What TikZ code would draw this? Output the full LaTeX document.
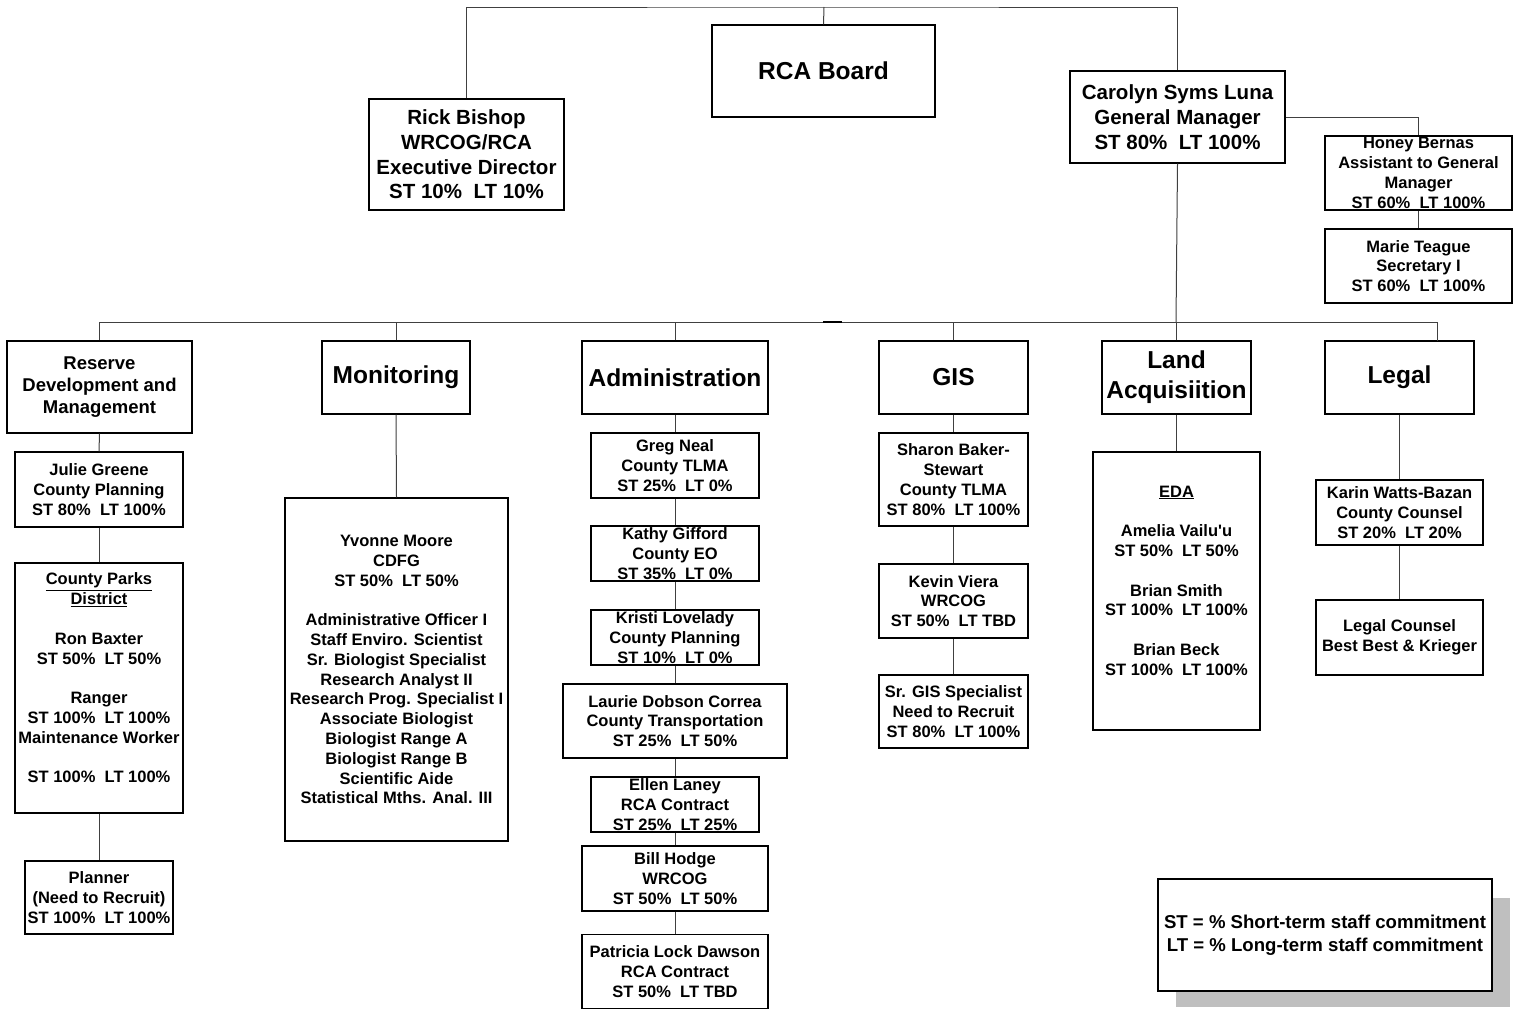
\documentclass[tikz,border=0pt]{standalone}
\usepackage{fontspec}
\setmainfont{Liberation Sans}
\newcommand{\fsm}{\fontsize{16.5}{19.8}\selectfont\bfseries}
\newcommand{\fmd}{\fontsize{18.5}{22}\selectfont\bfseries}
\newcommand{\fbg}{\fontsize{20.5}{24.7}\selectfont\bfseries}
\newcommand{\fhd}{\fontsize{24.5}{30}\selectfont\bfseries}
\newcommand{\flg}{\fontsize{18.6}{23}\selectfont\bfseries}
\tikzset{
  box/.style args={#1x#2}{draw=black, line width=1.4pt, fill=white, rectangle, align=center,
    inner sep=0pt, minimum width=#1pt, minimum height=#2pt, font=\fsm},
  txt/.style={align=center, inner sep=0pt, font=\fsm},
  conn/.style={draw=black!75, line width=1pt},
}
\begin{document}
\begin{tikzpicture}[x=1pt,y=-1pt]
\useasboundingbox (0,0) rectangle (1520,1009);
\fill[white] (0,0) rectangle (1520,1009);

% top level
\node[box=195 x 111, font=\fbg] (rick) at (466.5,154.5) {Rick Bishop\\WRCOG/RCA\\Executive Director\\ST 10\%\ \ LT 10\%};
\node[box=223 x 92, font=\fhd] (board) at (823.5,71) {RCA Board};
\node[box=215 x 92, font=\fbg] (carolyn) at (1177.5,117) {Carolyn Syms Luna\\General Manager\\ST 80\%\ \ LT 100\%};
\node[box=187 x 74] (honey) at (1418.5,173) {Honey Bernas\\Assistant to General\\Manager\\ST 60\%\ \ LT 100\%};
\node[box=187 x 74] (marie) at (1418.5,266) {Marie Teague\\Secretary I\\ST 60\%\ \ LT 100\%};

\coordinate (top) at (824,7);
\draw[conn] (rick.north) |- (top) -| (carolyn.north);
\draw[conn] (top) -- (board.north);
\draw[conn] (carolyn.east) -| (honey.north);
\draw[conn] (honey.south) -- (marie.north);

% department row
\node[box=185 x 92, font=\fmd] (reserve) at (99.5,387) {Reserve\\Development and\\Management};
\node[box=148 x 73, font=\fhd] (monitoring) at (396,377.5) {Monitoring};
\node[box=186 x 73, font=\fhd] (admin) at (675,377.5) {Administration};
\node[box=149 x 73, font=\fhd] (gis) at (953.5,377.5) {GIS};
\node[box=149 x 73, font=\fhd] (land) at (1176.5,377.5) {Land\\Acquisiition};
\node[box=149 x 73, font=\fhd] (legal) at (1399.5,377.5) {Legal};

\coordinate (bus) at (1176,322);
\coordinate (legaltop) at (1437,341);
\draw[conn] (carolyn.south) -- (bus);
\draw[conn] (reserve.north) |- (legaltop |- bus) -- (legaltop);
\draw[conn] (monitoring.north) -- (monitoring.north |- bus);
\draw[conn] (admin.north) -- (admin.north |- bus);
\draw[conn] (gis.north) -- (gis.north |- bus);
\draw[conn] (land.north) -- (land.north |- bus);
\draw[line width=2.5pt] (823,322) -- (842,322);

% reserve column
\node[box=168 x 75] (julie) at (99,489.5) {Julie Greene\\County Planning\\ST 80\%\ \ LT 100\%};
\node[box=168 x 250] (parks) at (99,688) {};
\node[txt] (parkst) at (99,678) {\underline{County Parks}\\\underline{District}\\[19.8pt]Ron Baxter\\ST 50\%\ \ LT 50\%\\[19.8pt]Ranger\\ST 100\%\ \ LT 100\%\\Maintenance Worker\\[19.8pt]ST 100\%\ \ LT 100\%};
\node[box=148 x 73] (planner) at (99,897.5) {Planner\\(Need to Recruit)\\ST 100\%\ \ LT 100\%};
\draw[conn] (reserve.south) -- (julie.north);
\draw[conn] (julie.south) -- (parks.north);
\draw[conn] (parks.south) -- (planner.north);

% monitoring column
\node[box=223 x 343] (yvonne) at (396.5,669.5) {Yvonne Moore\\CDFG\\ST 50\%\ \ LT 50\%\\[19.8pt]Administrative Officer I\\Staff Enviro. Scientist\\Sr. Biologist Specialist\\Research Analyst II\\Research Prog. Specialist I\\Associate Biologist\\Biologist Range A\\Biologist Range B\\Scientific Aide\\Statistical Mths. Anal. III};
\draw[conn] (monitoring.south) -- (yvonne.north);

% administration column
\node[box=168 x 65] (greg) at (675,465.5) {Greg Neal\\County TLMA\\ST 25\%\ \ LT 0\%};
\node[box=168 x 55] (kathy) at (675,553.5) {Kathy Gifford\\County EO\\ST 35\%\ \ LT 0\%};
\node[box=168 x 55] (kristi) at (675,637.5) {Kristi Lovelady\\County Planning\\ST 10\%\ \ LT 0\%};
\node[box=224 x 74] (laurie) at (675,721) {Laurie Dobson Correa\\County Transportation\\ST 25\%\ \ LT 50\%};
\node[box=168 x 55] (ellen) at (675,804.5) {Ellen Laney\\RCA Contract\\ST 25\%\ \ LT 25\%};
\node[box=186 x 65] (bill) at (675,878.5) {Bill Hodge\\WRCOG\\ST 50\%\ \ LT 50\%};
\node[box=186 x 74] (patricia) at (675,971.5) {Patricia Lock Dawson\\RCA Contract\\ST 50\%\ \ LT TBD};
\draw[conn] (admin.south) -- (greg.north);
\draw[conn] (greg.south) -- (kathy.north);
\draw[conn] (kathy.south) -- (kristi.north);
\draw[conn] (kristi.south) -- (laurie.north);
\draw[conn] (laurie.south) -- (ellen.north);
\draw[conn] (ellen.south) -- (bill.north);
\draw[conn] (bill.south) -- (patricia.north);

% GIS column
\node[box=149 x 93] (sharon) at (953.5,479.5) {Sharon Baker-\\Stewart\\County TLMA\\ST 80\%\ \ LT 100\%};
\node[box=149 x 74] (kevin) at (953.5,601) {Kevin Viera\\WRCOG\\ST 50\%\ \ LT TBD};
\node[box=149 x 73] (srgis) at (953.5,711.5) {Sr. GIS Specialist\\Need to Recruit\\ST 80\%\ \ LT 100\%};
\draw[conn] (gis.south) -- (sharon.north);
\draw[conn] (sharon.south) -- (kevin.north);
\draw[conn] (kevin.south) -- (srgis.north);

% land column
\node[box=167 x 278] (eda) at (1176.5,591) {};
\node[txt] (edat) at (1176.5,580.5) {\underline{EDA}\\[19.8pt]Amelia Vailu\textquotesingle u\\ST 50\%\ \ LT 50\%\\[19.8pt]Brian Smith\\ST 100\%\ \ LT 100\%\\[19.8pt]Brian Beck\\ST 100\%\ \ LT 100\%};
\draw[conn] (land.south) -- (eda.north);

% legal column
\node[box=167 x 65] (karin) at (1399.5,512.5) {Karin Watts-Bazan\\County Counsel\\ST 20\%\ \ LT 20\%};
\node[box=167 x 75] (lcounsel) at (1399.5,637.5) {Legal Counsel\\Best Best \& Krieger};
\draw[conn] (legal.south) -- (karin.north);
\draw[conn] (karin.south) -- (lcounsel.north);

% legend
\fill[black!25] (1176,898) rectangle (1510,1007);
\node[box=334 x 112, font=\flg] (legend) at (1325,935) {ST = \% Short-term staff commitment\\LT = \% Long-term staff commitment};
\end{tikzpicture}
\end{document}
